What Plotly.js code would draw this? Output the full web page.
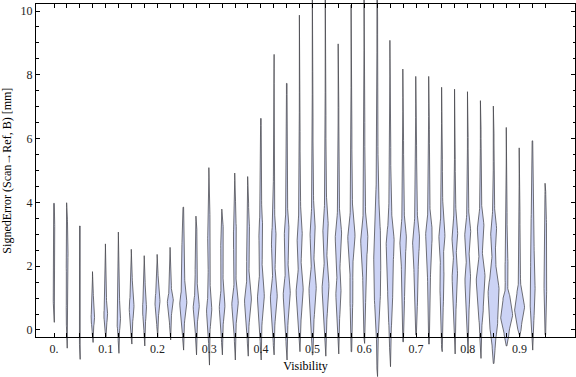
<!DOCTYPE html>
<html>
<head>
<meta charset="utf-8">
<script src="https://cdn.plot.ly/plotly-3.0.1.min.js"></script>
<style>html,body{margin:0;padding:0;background:#fff;}#chart{width:576px;height:377px;}</style>
</head>
<body>
<div id="chart"></div>
<script>
// Visibility bins (violin positions)
const visibility = [0, 0.025, 0.05, 0.075, 0.1, 0.125, 0.15, 0.175, 0.2, 0.225,
  0.25, 0.275, 0.3, 0.325, 0.35, 0.375, 0.4, 0.425, 0.45, 0.475,
  0.5, 0.525, 0.55, 0.575, 0.6, 0.625, 0.65, 0.675, 0.7, 0.725,
  0.75, 0.775, 0.8, 0.825, 0.85, 0.875, 0.9, 0.925, 0.95];

// x tick labels (one tick per bin, label every 0.1)
const xTickLabels = ["0.", "", "", "", "0.1", "", "", "", "0.2", "", "", "", "0.3", "", "", "",
  "0.4", "", "", "", "0.5", "", "", "", "0.6", "", "", "", "0.7", "", "", "", "0.8", "", "", "",
  "0.9", "", ""];

const yTickVals = [0, 2, 4, 6, 8, 10];

// Density profile of each violin: [signed error (mm), relative density]
const densityKnots = [
  [[0.24,.3],[0.6,.5],[1.2,1.0],[1.6,.8],[2.2,.6],[2.8,1.0],[3.3,.7],[3.97,.3]],
  [[-0.57,.3],[0,.4],[0.4,.9],[0.9,.6],[1.6,.5],[2.5,1.1],[3.1,.9],[3.6,.4],[3.99,.3]],
  [[-0.92,.3],[-0.3,.4],[0.2,.9],[0.6,.7],[1.0,1.0],[1.5,.6],[2.5,.5],[3.26,.3]],
  [[-0.39,.3],[0,.6],[0.35,1.8],[0.7,1.0],[1.2,.5],[1.83,.3]],
  [[-0.21,.3],[0.1,.8],[0.47,1.9],[0.85,.8],[1.5,.6],[2.2,.5],[2.7,.3]],
  [[-0.73,.3],[-0.2,.5],[0.31,1.9],[0.7,1.0],[1.3,.8],[2.2,.6],[3.07,.3]],
  [[-0.44,.3],[0,.6],[0.73,2.4],[1.3,.8],[2.0,.5],[2.53,.3]],
  [[-0.5,.3],[0.05,.6],[0.65,2.0],[1.25,.7],[1.9,.5],[2.33,.3]],
  [[-0.21,.3],[0.3,.8],[0.89,2.5],[1.4,.9],[1.9,.5],[2.37,.3]],
  [[-0.31,.3],[0.4,1.0],[0.89,3.0],[1.3,1.0],[2.0,.6],[2.59,.3]],
  [[-0.63,.3],[0.1,1.0],[0.85,3.5],[1.4,1.5],[2.0,1.2],[2.6,1.4],[3.2,.7],[3.85,.3]],
  [[-0.78,.3],[0.1,.9],[0.73,3.0],[1.3,1.0],[2.5,1.2],[3.1,.6],[3.57,.3]],
  [[-1.1,.3],[-0.2,.6],[0.63,2.6],[1.2,1.0],[2.0,1.0],[2.8,1.5],[3.4,.8],[4.3,.4],[5.09,.3]],
  [[-0.78,.3],[0,.8],[0.73,2.8],[1.4,.9],[2.3,1.2],[3.0,1.5],[3.5,.6],[3.79,.3]],
  [[-0.94,.3],[0,.8],[0.84,3.2],[1.5,1.0],[2.3,1.3],[2.9,1.7],[3.6,.7],[4.3,.4],[4.92,.3]],
  [[-0.82,.3],[0,.9],[0.94,3.4],[1.7,1.0],[2.3,1.3],[3.1,1.6],[3.7,.7],[4.81,.3]],
  [[-0.94,.3],[0,.9],[1.04,3.4],[1.9,1.2],[3.1,2.0],[3.8,.8],[4.8,.4],[6.63,.3]],
  [[-0.78,.3],[0,.9],[1.04,3.4],[1.8,1.2],[2.82,2.4],[3.6,.9],[5,.4],[8.64,.3]],
  [[-0.94,.3],[0,1.0],[1.15,3.5],[1.9,1.3],[3.03,2.4],[3.8,.9],[5,.4],[7.73,.3]],
  [[-0.68,.3],[0,1.0],[1.25,3.5],[2.0,1.4],[2.93,2.6],[3.7,1.0],[5,.4],[9.87,.3]],
  [[-0.78,.3],[0,1.0],[1.3,3.6],[2.1,1.3],[3.13,2.6],[3.9,1.0],[5.2,.4],[11,.3]],
  [[-0.82,.3],[0,1.0],[1.36,3.4],[2.2,1.3],[3.24,2.7],[4.0,1.0],[5.3,.4],[11,.3]],
  [[-0.75,.3],[0.1,.9],[1.15,2.6],[1.8,1.4],[2.93,3.2],[3.8,1.0],[5,.4],[8.97,.3]],
  [[-0.68,.3],[0.2,.8],[1.2,1.6],[1.9,1.3],[2.93,3.6],[3.8,1.1],[5,.5],[10.19,.3]],
  [[-0.42,.3],[0.3,.8],[1.2,1.5],[1.9,1.6],[2.82,3.6],[3.7,1.2],[5,.5],[11,.3]],
  [[-1.46,.3],[-0.5,.6],[0.3,1.8],[1.3,3.3],[2.2,3.5],[2.9,3.3],[3.8,1.8],[5,.8],[7,.4],[11.5,.3]],
  [[-1.15,.3],[-0.2,.8],[0.5,1.8],[1.1,2.5],[1.9,2.8],[2.72,4.0],[3.6,1.6],[4.6,.6],[9.08,.3]],
  [[-0.37,.3],[0.3,1.0],[1.3,1.5],[2.1,1.8],[2.82,3.3],[3.6,1.2],[4.6,.5],[8.18,.3]],
  [[-0.15,.3],[0.4,1.0],[1.3,1.8],[2.1,2.2],[2.82,3.5],[3.6,1.3],[4.5,.6],[7.95,.3]],
  [[-0.44,.3],[0.3,.9],[1.3,1.3],[2.2,1.8],[3.03,3.3],[3.8,1.0],[4.6,.5],[7.95,.3]],
  [[-0.68,.3],[0.2,.9],[1.57,2.1],[2.3,1.5],[2.93,3.0],[3.7,1.0],[4.6,.5],[7.61,.3]],
  [[-0.75,.3],[0.3,.9],[1.7,2.7],[2.35,1.4],[2.93,2.9],[3.7,1.0],[4.6,.4],[7.55,.3]],
  [[-0.73,.3],[0.3,1.0],[1.6,2.8],[2.3,1.3],[3.0,3.0],[3.7,1.0],[4.6,.4],[7.47,.3]],
  [[-0.89,.3],[0,1.0],[0.6,2.5],[1.6,4.4],[2.4,1.7],[3.2,3.3],[3.9,1.0],[4.8,.4],[7.19,.3]],
  [[-1.05,.3],[-0.5,1.5],[0.2,4.0],[1.2,5.5],[2.0,2.3],[2.4,1.6],[3.1,3.0],[3.8,1.0],[4.7,.4],[7.02,.3]],
  [[-0.5,.3],[-0.1,2.5],[0.45,6.0],[1.0,3.5],[1.3,1.2],[1.8,1.7],[2.5,1.0],[3.3,.5],[6.35,.3]],
  [[-0.2,.3],[0.1,2.0],[0.7,5.0],[1.2,2.5],[1.5,1.0],[2.5,.5],[5.71,.3]],
  [[-0.63,.3],[0,1.2],[1.2,2.7],[2.0,1.8],[3.0,1.6],[4.0,1.0],[4.8,.5],[5.93,.3]],
  [[-0.15,.3],[0.5,.6],[1.3,1.3],[2.2,1.6],[3.2,1.2],[3.9,.5],[4.6,.3]]
];

const FONT = "Liberation Serif, Times New Roman, serif";
const widthScale = 1 / 517; // relative density unit -> x units

function violinTrace(center, knots) {
  const vs = [], ws = [];
  const n = 8;
  for (let j = 0; j < knots.length - 1; j++) {
    const [v0, w0] = knots[j], [v1, w1] = knots[j + 1];
    for (let k = 0; k < n; k++) {
      const t = k / n;
      vs.push(v0 + (v1 - v0) * t);
      ws.push(w0 + (w1 - w0) * (1 - Math.cos(Math.PI * t)) / 2);
    }
  }
  const last = knots[knots.length - 1];
  vs.push(last[0]); ws.push(last[1]);
  const xs = [], ys = [];
  for (let i = 0; i < vs.length; i++) { xs.push(center + ws[i] * widthScale); ys.push(vs[i]); }
  for (let i = vs.length - 1; i >= 0; i--) { xs.push(center - ws[i] * widthScale); ys.push(vs[i]); }
  xs.push(xs[0]); ys.push(ys[0]);
  return {
    type: 'scatter', mode: 'lines', x: xs, y: ys, fill: 'toself',
    fillcolor: 'rgb(204,211,245)',
    line: {color: 'rgba(70,70,75,0.85)', width: 0.9},
    xaxis: 'x', yaxis: 'y', hoverinfo: 'skip', showlegend: false
  };
}

const traces = visibility.map((c, i) => violinTrace(c, densityKnots[i]));
// dummy trace to create the framed subplot
traces.push({type: 'scatter', mode: 'markers', x: [], y: [], xaxis: 'x', yaxis: 'y2', showlegend: false});

const layout = {
  width: 576, height: 377,
  margin: {l: 36, r: 1, t: 0, b: 0},
  paper_bgcolor: '#fff', plot_bgcolor: 'rgba(0,0,0,0)',
  showlegend: false,
  font: {family: FONT, size: 12, color: '#000'},
  xaxis: {
    range: [-0.0348, 1.0073], anchor: 'y2',
    tickmode: 'array', tickvals: visibility, ticktext: xTickLabels,
    ticks: 'inside', ticklen: 4, tickcolor: '#000', tickwidth: 1,
    showline: true, linecolor: '#000', linewidth: 1, mirror: 'ticks',
    showgrid: false, zeroline: false, automargin: false,
    tickfont: {family: FONT, size: 12, color: '#222'},
    title: {text: 'Visibility', font: {family: FONT, size: 12, color: '#000'}, standoff: 6}
  },
  yaxis: {domain: [0, 1], range: [-1.473, 10.345], visible: false, showgrid: false, zeroline: false},
  yaxis2: {
    domain: [0.1053, 0.9894], range: [-0.229, 10.22], anchor: 'x',
    tickmode: 'array', tickvals: yTickVals,
    ticks: 'inside', ticklen: 4, tickcolor: '#000', tickwidth: 1,
    minor: {tickmode: 'linear', tick0: 0, dtick: 0.5, ticks: 'inside', ticklen: 2.5, tickcolor: '#000', tickwidth: 1},
    showline: true, linecolor: '#000', linewidth: 1, mirror: 'ticks',
    showgrid: false, zeroline: false, automargin: false,
    tickfont: {family: FONT, size: 12, color: '#222'},
    title: {text: 'SignedError (Scan→Ref, B) [mm]', font: {family: FONT, size: 12, color: '#000'}, standoff: 6}
  }
};

Plotly.newPlot('chart', traces, layout, {staticPlot: true, displayModeBar: false});
</script>
</body>
</html>
